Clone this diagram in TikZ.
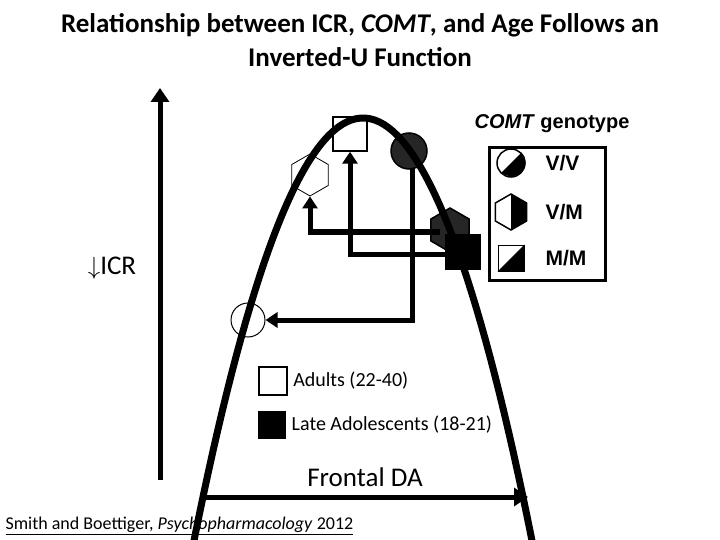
\documentclass[tikz,border=0pt]{standalone}
\usepackage{fontspec}
\setmainfont{Carlito}
\newfontfamily\arialf{Liberation Sans}
\usetikzlibrary{arrows.meta,shapes.geometric,positioning}
\begin{document}
\begin{tikzpicture}[x=1pt,y=-1pt,
		axis/.style={line width=5pt, -{Triangle[length=14pt,width=18pt]}},
		link/.style={line width=5pt, -{Triangle[length=12pt,width=15pt]}},
		marker/.style={draw, line width=1.5pt, inner sep=0pt},
		hexa/.style={regular polygon, regular polygon sides=6, shape border rotate=90},
		opensq/.style={marker, rectangle, minimum size=34pt, fill=white},
		fullsq/.style={marker, rectangle, minimum size=34pt, fill=black},
		openhex/.style={marker, hexa, minimum size=42pt, fill=white, line width=0.8pt},
		fullhex/.style={marker, hexa, minimum size=44pt, fill=black!85},
		opencirc/.style={marker, circle, minimum size=34pt, fill=white, line width=1pt},
		fullcirc/.style={marker, circle, minimum size=36pt, fill=black!85},
		keytext/.style={font=\arialf\bfseries\fontsize{21}{25}\selectfont, anchor=west},
	]
	\useasboundingbox (0,0) rectangle (720,540);
	% title
	\node[font=\bfseries\fontsize{27}{34}\selectfont, align=center] (title) at (360,40)
		{Relationship between ICR, \textit{COMT}, and Age Follows an\\ Inverted-U Function};
	% axes
	\draw[axis] (160,480) -- (160,88);
	\draw[axis] (203,497) -- (528,497);
	\node[font=\fontsize{27}{32}\selectfont] (icr) at (112,268) {$\downarrow$ICR};
	\node[font=\fontsize{27}{32}\selectfont] (da) at (365,477) {Frontal DA};
	% markers
	\node[opencirc] (vvadult) at (248,320) {};
	\node[openhex] (vmadult) at (310,175) {};
	\node[opensq] (mmadult) at (350,134) {};
	\node[fullcirc] (vvlate) at (409,151) {};
	\node[fullhex] (vmlate) at (450,230) {};
	\node[fullsq] (mmlate) at (463,252) {};
	% curve
	\begin{scope}
		\clip (0,100) rectangle (720,540);
		\draw[line width=7pt, domain=190:555, samples=80] plot (\x,{118+148*((\x-363)/100)^2});
	\end{scope}
	% shifts
	\draw[link] (412,168) |- (vvadult.east);
	\draw[link] (440,232) -| (vmadult.south);
	\draw[link] (448,254) -| (mmadult.south);
	% genotype legend
	\node[font=\arialf\bfseries\fontsize{20}{24}\selectfont] (gtitle) at (552,124) {\textit{COMT} genotype};
	\draw[line width=3pt] (489,148) rectangle (605,280);
	\node[circle, draw, line width=1.5pt, minimum size=28pt, inner sep=0pt] (keyvv) at (511,163) {};
	\fill (keyvv.45) arc (45:-135:14pt) -- cycle;
	\node[hexa, draw, line width=1.5pt, minimum size=36pt, inner sep=0pt,
		path picture={\fill (path picture bounding box.north) rectangle (path picture bounding box.south east);}] (keyvm) at (511,212) {};
	\node[rectangle, draw, line width=1pt, minimum size=26pt, inner sep=0pt] (keymm) at (511,258) {};
	\fill (keymm.north east) -- (keymm.south east) -- (keymm.south west) -- cycle;
	\node[keytext] at (542,163) {V/V};
	\node[keytext] at (542,212) {V/M};
	\node[keytext] at (542,258) {M/M};
	% age legend
	\node[draw, line width=1.5pt, minimum size=28pt, inner sep=0pt] (keyadult) at (273,381) {};
	\node[fill=black, minimum size=28pt, inner sep=0pt] (keylate) at (272,425) {};
	\node[font=\fontsize{20}{24}\selectfont, right=2pt of keyadult] {Adults (22-40)};
	\node[font=\fontsize{20}{24}\selectfont, right=2pt of keylate] {Late Adolescents (18-21)};
	% citation
	\node[font=\fontsize{18}{22}\selectfont, anchor=west] (cite) at (2,526)
		{\underline{Smith and Boettiger, \textit{Psychopharmacology} 2012}};
\end{tikzpicture}
\end{document}
